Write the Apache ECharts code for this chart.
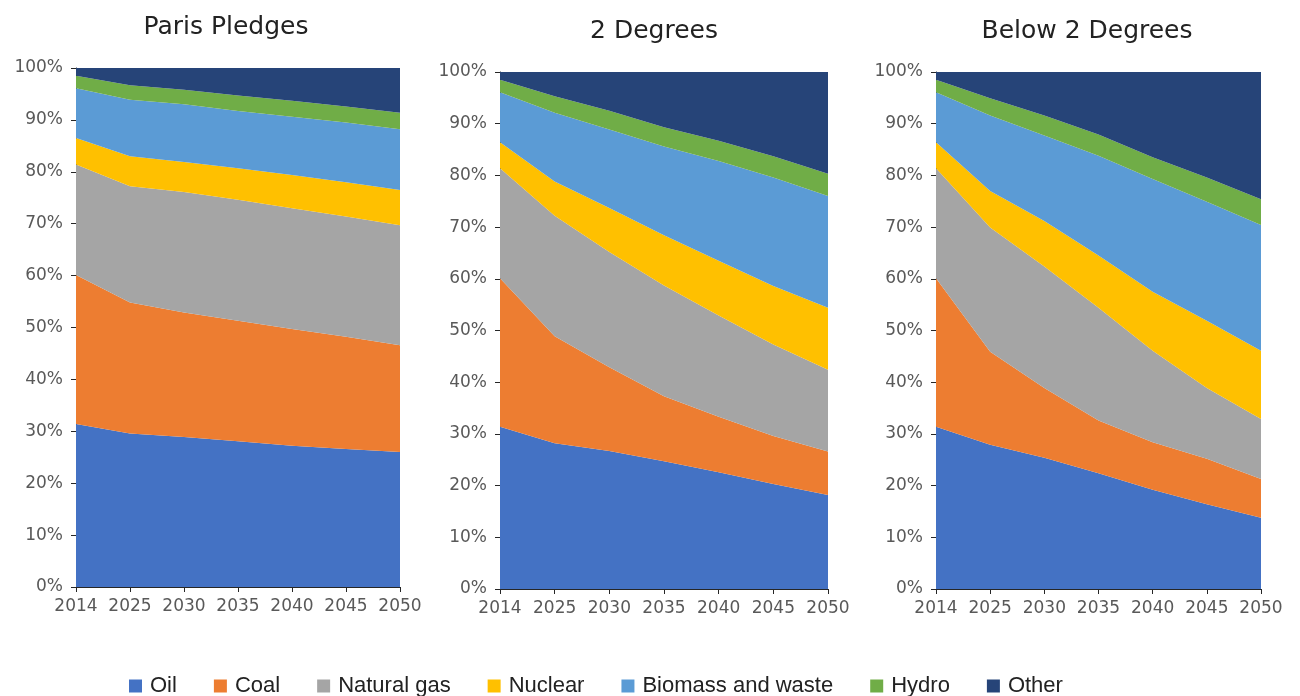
<!DOCTYPE html>
<html>
<head>
<meta charset="utf-8">
<script src="https://cdn.jsdelivr.net/npm/echarts@6/dist/echarts.min.js"></script>
<style>
html,body{margin:0;padding:0;background:#fff;}
#main{width:1300px;height:696px;}
</style>
</head>
<body>
<div id="main"></div>
<script>
const years = ['2014','2025','2030','2035','2040','2045','2050'];
const seriesNames = ['Oil','Coal','Natural gas','Nuclear','Biomass and waste','Hydro','Other'];
const colors = ['#4472C4','#ED7D31','#A5A5A5','#FFC000','#5B9BD5','#70AD47','#264478'];
const panelTitles = ['Paris Pledges','2 Degrees','Below 2 Degrees'];

// Paris Pledges
const parisOil     = [31.4, 29.6, 28.9, 28.1, 27.2, 26.6, 26.0];
const parisCoal    = [28.7, 25.2, 24.0, 23.2, 22.5, 21.6, 20.6];
const parisGas     = [21.3, 22.4, 23.2, 23.3, 23.3, 23.2, 23.1];
const parisNuclear = [5.1, 5.8, 5.8, 6.1, 6.4, 6.6, 6.8];
const parisBiomass = [9.6, 10.9, 11.1, 11.0, 11.2, 11.5, 11.7];
const parisHydro   = [2.4, 2.8, 2.8, 3.0, 3.1, 3.1, 3.2];
const parisOther   = [1.5, 3.3, 4.2, 5.3, 6.3, 7.4, 8.6];

// 2 Degrees
const twoOil     = [31.4, 28.2, 26.7, 24.7, 22.6, 20.3, 18.2];
const twoCoal    = [28.7, 20.7, 16.2, 12.6, 10.7, 9.3, 8.4];
const twoGas     = [21.3, 23.3, 22.3, 21.4, 19.6, 17.7, 15.8];
const twoNuclear = [5.0, 6.6, 8.5, 9.7, 10.6, 11.3, 12.0];
const twoBiomass = [9.7, 13.3, 15.2, 17.2, 19.3, 21.0, 21.6];
const twoHydro   = [2.4, 3.2, 3.6, 3.7, 3.9, 4.1, 4.3];
const twoOther   = [1.5, 4.7, 7.5, 10.7, 13.3, 16.3, 19.7];

// Below 2 Degrees
const b2Oil     = [31.4, 27.9, 25.4, 22.4, 19.2, 16.4, 13.8];
const b2Coal    = [28.7, 18.0, 13.5, 10.2, 9.2, 8.8, 7.5];
const b2Gas     = [21.3, 24.0, 23.5, 21.8, 17.7, 13.7, 11.6];
const b2Nuclear = [5.0, 7.1, 8.8, 10.1, 11.4, 13.0, 13.2];
const b2Biomass = [9.7, 14.6, 16.5, 19.3, 21.8, 23.0, 24.3];
const b2Hydro   = [2.4, 3.3, 3.9, 4.1, 4.2, 4.7, 5.0];
const b2Other   = [1.5, 5.1, 8.4, 12.1, 16.5, 20.4, 24.6];

const panels = [
  [parisOil, parisCoal, parisGas, parisNuclear, parisBiomass, parisHydro, parisOther],
  [twoOil, twoCoal, twoGas, twoNuclear, twoBiomass, twoHydro, twoOther],
  [b2Oil, b2Coal, b2Gas, b2Nuclear, b2Biomass, b2Hydro, b2Other]
];

const grids = [
  {left: 76, width: 324, top: 68, height: 519},
  {left: 500, width: 328, top: 72, height: 517},
  {left: 936, width: 325, top: 72, height: 517}
];
const titleCenters = [221, 649, 1082];
const titleTops = [10, 14, 14];

const axisColor = '#262626';
const labelFont = 'DejaVu Sans';

const option = {
  animation: false,
  backgroundColor: '#ffffff',
  color: colors,
  title: panelTitles.map((t, i) => ({
    text: t,
    left: titleCenters[i],
    top: titleTops[i],
    textAlign: 'center',
    textStyle: {fontFamily: labelFont, fontSize: 25, fontWeight: 'normal', color: '#222'}
  })),
  legend: {
    data: seriesNames,
    left: 124,
    top: 670,
    itemWidth: 13,
    itemHeight: 13,
    itemGap: 37,
    icon: 'rect',
    textStyle: {fontFamily: 'Liberation Sans', fontSize: 22, color: '#222', padding: [0,0,0,3]}
  },
  grid: grids,
  xAxis: grids.map((g, i) => ({
    type: 'category',
    gridIndex: i,
    data: years,
    boundaryGap: false,
    axisLine: {lineStyle: {color: axisColor, width: 1}},
    axisTick: {show: true, alignWithLabel: true, length: 5, lineStyle: {color: axisColor}},
    axisLabel: {fontFamily: labelFont, fontSize: 17, color: '#595959', margin: 11, interval: 0}
  })),
  yAxis: grids.map((g, i) => ({
    type: 'value',
    gridIndex: i,
    min: 0,
    max: 100,
    interval: 10,
    axisLine: {show: true, lineStyle: {color: axisColor, width: 1}},
    axisTick: {show: true, length: 5, lineStyle: {color: axisColor}},
    splitLine: {show: false},
    axisLabel: {fontFamily: labelFont, fontSize: 17, color: '#595959', margin: 13, formatter: '{value}%'}
  })),
  series: []
};

panels.forEach((panel, pi) => {
  panel.forEach((vals, si) => {
    option.series.push({
      name: seriesNames[si],
      type: 'line',
      xAxisIndex: pi,
      yAxisIndex: pi,
      stack: 'p' + pi,
      data: vals,
      showSymbol: false,
      symbol: 'none',
      lineStyle: {width: 0},
      areaStyle: {color: colors[si], opacity: 1},
      itemStyle: {color: colors[si]},
      z: 1
    });
  });
});

const chart = echarts.init(document.getElementById('main'));
chart.setOption(option);
</script>
</body>
</html>
